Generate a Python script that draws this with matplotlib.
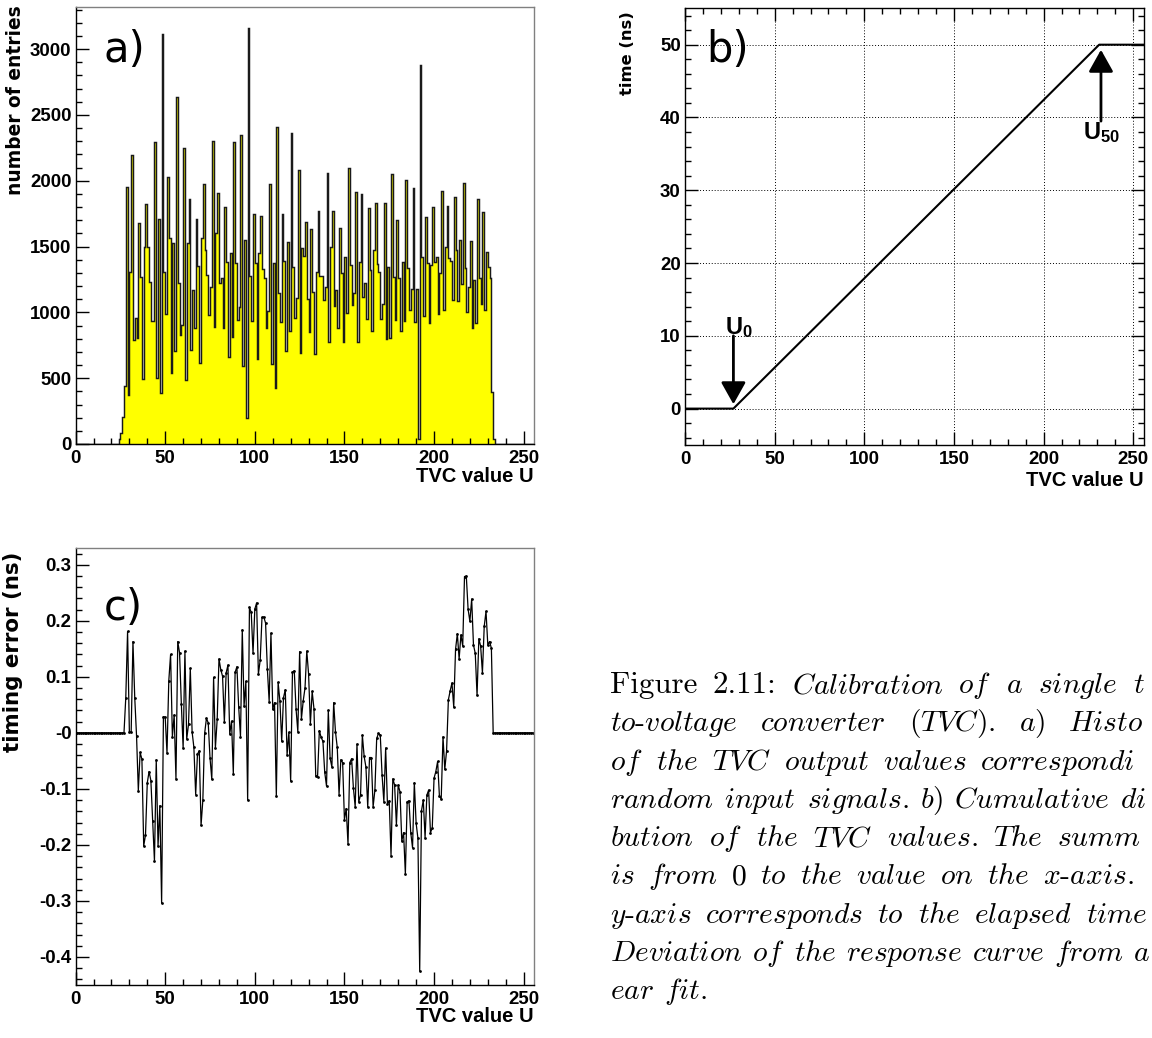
import numpy as np
import matplotlib
matplotlib.use('Agg')
import matplotlib.pyplot as plt
from matplotlib.ticker import MultipleLocator, FixedLocator, FixedFormatter

# ---------------- data ----------------
# (a) histogram of TVC values: counts per bin, starting at bin hist_first_bin
hist_first_bin = 24
hist_counts = [35, 85, 208, 440, 1955, 372, 1310, 2196, 790, 955, 803, 1682, 1271, 491, 1499,
               1821, 1499, 1234, 935, 935, 2297, 499, 1707, 390, 3113, 1310, 985, 2026, 1568, 542,
               1525, 709, 2634, 1221, 828, 904, 2252, 486, 1525, 1861, 715, 1170, 879, 1707, 1355,
               613, 1563, 1976, 1474, 1284, 980, 1196, 2302, 891, 1600, 1905, 1221, 1259, 879, 1803,
               1385, 664, 1449, 816, 2297, 1373, 942, 1044, 2348, 595, 1550, 195, 3163, 1277, 935,
               1745, 1373, 646, 1449, 1735, 1327, 1264, 884, 1013, 1976, 605, 1378, 428, 2411, 1150,
               930, 1745, 1391, 707, 1532, 859, 2366, 1342, 960, 1107, 2082, 689, 1492, 1429, 1689,
               1102, 849, 1631, 1158, 684, 1305, 1771, 1279, 1277, 1094, 1196, 2057, 778, 1499, 1773,
               1049, 1170, 879, 1644, 1302, 773, 1424, 993, 2100, 1360, 1056, 1145, 1917, 778, 1380,
               1897, 1120, 1221, 950, 1796, 1322, 859, 1474, 1829, 1365, 1310, 947, 1064, 1829, 795,
               1347, 803, 2052, 1271, 942, 1702, 1259, 859, 1385, 935, 2006, 1335, 1018, 1175, 1943,
               930, 1175, 35, 2880, 1418, 973, 1727, 1373, 922, 1360, 1803, 1385, 1418, 988, 1297,
               1925, 1018, 1499, 1811, 1416, 1391, 1094, 1879, 1474, 1087, 1550, 1213, 1986, 1335, 1006,
               1196, 1545, 879, 1246, 917, 1862, 1264, 1064, 1765, 1018, 1462, 1347, 1259, 398, 35]

# (b) cumulative time vs TVC value (piecewise: flat, linear, flat)
b_u = [0, 27, 231, 256]
b_time = [0, 0, 50, 50]
b_u0 = 27
b_u50 = 232

# (c) deviation from linear fit (ns), one point per TVC value, starting at c_first_u
c_first_u = 28
c_dev = [0.063, 0.181, 0.002, 0.001, 0.163, 0.063, -0.005, -0.103, -0.035, -0.047,
         -0.202, -0.182, -0.089, -0.069, -0.085, -0.157, -0.229, -0.048, -0.202, -0.130,
         -0.304, 0.029, 0.028, -0.036, 0.093, 0.140, -0.007, 0.032, -0.082, 0.163,
         0.143, 0.052, -0.027, 0.146, -0.011, 0.015, 0.115, 0.002, -0.026, -0.110,
         -0.038, -0.032, -0.165, -0.120, -0.001, 0.026, 0.018, -0.045, -0.083, 0.099,
         -0.027, 0.024, 0.132, 0.113, 0.101, 0.019, 0.107, 0.121, -0.002, 0.021,
         -0.073, 0.108, 0.118, 0.046, -0.007, 0.184, 0.048, 0.092, -0.120, 0.224,
         0.215, 0.142, 0.221, 0.232, 0.105, 0.130, 0.206, 0.207, 0.196, 0.114,
         0.056, 0.178, 0.042, 0.054, -0.113, 0.090, 0.057, -0.015, 0.063, 0.077,
         -0.039, 0.001, -0.086, 0.108, 0.111, 0.043, 0.002, 0.145, 0.025, 0.057,
         0.080, 0.146, 0.105, 0.016, 0.074, 0.043, -0.077, -0.079, 0.004, -0.008,
         -0.015, -0.070, -0.095, 0.040, -0.045, -0.061, 0.054, 0.002, -0.026, -0.110,
         -0.048, -0.053, -0.155, -0.135, -0.199, -0.053, -0.046, -0.098, -0.132, -0.020,
         -0.123, -0.111, -0.004, -0.042, -0.061, -0.132, -0.044, -0.044, -0.132, -0.102,
         -0.010, -0.001, -0.004, -0.075, -0.123, -0.027, -0.127, -0.121, -0.219, -0.082,
         -0.093, -0.164, -0.093, -0.105, -0.193, -0.178, -0.252, -0.123, -0.121, -0.178,
         -0.205, -0.089, -0.161, -0.188, -0.425, -0.139, -0.120, -0.187, -0.111, -0.102,
         -0.178, -0.170, -0.081, -0.069, -0.051, -0.113, -0.118, -0.007, -0.065, -0.032,
         0.059, 0.075, 0.089, 0.046, 0.149, 0.177, 0.132, 0.175, 0.155, 0.279,
         0.280, 0.221, 0.199, 0.239, 0.157, 0.142, 0.067, 0.168, 0.155, 0.107,
         0.190, 0.217, 0.157, 0.163, 0.151]
c_last_u = 255

c_yticks = [-0.4, -0.3, -0.2, -0.1, 0.0, 0.1, 0.2, 0.3]
c_yticklabels = ['-0.4', '-0.3', '-0.2', '-0.1', '-0', '0.1', '0.2', '0.3']

# caption (visible part, the page is cut at the right edge): words of each line
caption_words = [
    ['Figure', '2.11:', 'Calibration', 'of', 'a', 'single', 't'],
    ['to-voltage', 'converter', '(TVC).', 'a)', 'Histo'],
    ['of', 'the', 'TVC', 'output', 'values', 'correspondi'],
    ['random', 'input', 'signals.', 'b)', 'Cumulative', 'di'],
    ['bution', 'of', 'the', 'TVC', 'values.', 'The', 'summ'],
    ['is', 'from', '0', 'to', 'the', 'value', 'on', 'the', 'x-axis.'],
    ['y-axis', 'corresponds', 'to', 'the', 'elapsed', 'time'],
    ['Deviation', 'of', 'the', 'response', 'curve', 'from', 'a'],
    ['ear', 'fit.'],
]
# left pixel position of the last visible word of each justified line
caption_last_word_x = [1133, 1068, 980, 1120, 1057, 1043, 1086, 1133, None]

# ---------------- style ----------------
W, H = 1152, 1038
plt.rcParams['font.family'] = ['Liberation Sans', 'DejaVu Sans']
plt.rcParams['mathtext.fontset'] = 'custom'
plt.rcParams['mathtext.rm'] = 'Liberation Sans'
plt.rcParams['mathtext.bf'] = 'Liberation Sans:bold'
plt.rcParams['mathtext.it'] = 'Liberation Sans:italic'

fig = plt.figure(figsize=(W / 100, H / 100), dpi=100)


def rect(l, r, t, b):
    return [l / W, 1 - b / H, (r - l) / W, (b - t) / H]


def px(x, y):
    return (x / W, 1 - y / H)


TICK_FS = 13.4


def style_axes(ax, ticks_all=False):
    ax.tick_params(which='both', direction='in', labelsize=TICK_FS,
                   top=ticks_all, right=ticks_all, width=1.0)
    ax.tick_params(which='major', length=9.5)
    ax.tick_params(which='minor', length=4.5)
    ax.tick_params(axis='x', pad=4)
    ax.tick_params(axis='y', pad=3)
    for s in ax.spines.values():
        s.set_linewidth(1.0)
    ax.xaxis.set_major_locator(MultipleLocator(50))
    ax.xaxis.set_minor_locator(MultipleLocator(10))


# ---- (a) ----
ax_a = fig.add_axes(rect(75.6, 534.4, 7, 444))
edges = np.arange(257)
counts = np.zeros(256)
counts[hist_first_bin:hist_first_bin + len(hist_counts)] = hist_counts
ax_a.stairs(counts, edges, fill=True, color='#ffff00', lw=0)
ax_a.stairs(counts, edges, color='#1a1a1a', lw=1.05)
ax_a.set_xlim(0, 256)
ax_a.set_ylim(0, 3320)
ax_a.yaxis.set_major_locator(MultipleLocator(500))
ax_a.yaxis.set_minor_locator(MultipleLocator(100))
style_axes(ax_a)
for s in ('top', 'right'):
    ax_a.spines[s].set_color('#808080')

# ---- (b) ----
ax_b = fig.add_axes(rect(685, 1144, 8.3, 445))
ax_b.plot(b_u, b_time, color='black', lw=1.5)
ax_b.set_xlim(0, 256)
ax_b.set_ylim(-5, 55)
ax_b.yaxis.set_major_locator(MultipleLocator(10))
ax_b.yaxis.set_minor_locator(MultipleLocator(2))
ax_b.grid(True, which='major', color='black', linestyle=(0, (1, 2)), lw=0.7)
style_axes(ax_b, ticks_all=True)
ap = dict(arrowstyle='-|>,head_length=0.75,head_width=0.42', color='black', lw=2.0,
          mutation_scale=18, shrinkA=0, shrinkB=0)
ax_b.annotate('', xy=(b_u0, 0.6), xytext=(b_u0, 10), arrowprops=ap)
ax_b.annotate('', xy=(b_u50, 49.3), xytext=(b_u50, 39.5), arrowprops=ap)
ax_b.text(b_u0 - 4.5, 10.3, r'$\mathbf{U_0}$', fontsize=17, ha='left', va='baseline')
ax_b.text(b_u50 - 10, 37.0, r'$\mathbf{U_{50}}$', fontsize=17, ha='left', va='baseline')

# ---- (c) ----
ax_c = fig.add_axes(rect(75.6, 534.4, 548, 985))
c_u = np.arange(0, c_last_u + 1)
c_vals = np.zeros(len(c_u))
c_vals[c_first_u:c_first_u + len(c_dev)] = c_dev
ax_c.plot(c_u, c_vals, color='black', lw=0.9, marker='o', ms=2.0, mew=0)
ax_c.set_xlim(0, 256)
ax_c.set_ylim(-0.45, 0.33)
ax_c.yaxis.set_major_locator(FixedLocator(c_yticks))
ax_c.yaxis.set_major_formatter(FixedFormatter(c_yticklabels))
ax_c.yaxis.set_minor_locator(MultipleLocator(0.02))
style_axes(ax_c)
for s in ('top', 'right'):
    ax_c.spines[s].set_color('#808080')

for ax in (ax_a, ax_b, ax_c):
    for lab in ax.get_xticklabels() + ax.get_yticklabels():
        lab.set_fontweight('bold')

# axis titles
fig.text(*px(534, 476), 'TVC value U', fontsize=14.5, fontweight='bold', ha='right', va='center')
fig.text(*px(1144, 481), 'TVC value U', fontsize=14.5, fontweight='bold', ha='right', va='center')
fig.text(*px(534, 1016), 'TVC value U', fontsize=14.5, fontweight='bold', ha='right', va='center')
fig.text(*px(16, 5), 'number of entries', fontsize=13.4, fontweight='bold', family='DejaVu Sans',
         rotation=90, ha='center', va='top')
fig.text(*px(628, 11), 'time (ns)', fontsize=11.8, fontweight='bold', family='DejaVu Sans',
         rotation=90, ha='center', va='top')
fig.text(*px(13, 552), 'timing error (ns)', fontsize=15.4, fontweight='bold', family='DejaVu Sans',
         rotation=90, ha='center', va='top')

# panel letters
for lab, (x, y) in (('a)', (104, 62)), ('b)', (706, 62)), ('c)', (104, 620))):
    fig.text(*px(x, y), lab, fontsize=30, family='DejaVu Sans', ha='left', va='baseline')

# caption: justified lines, word gaps spread evenly between left margin and last visible word
renderer = fig.canvas.get_renderer()
LEFT = 610
for i, (words, last_x) in enumerate(zip(caption_words, caption_last_word_x)):
    y = 693 + 38.3 * i
    texts = []
    for j, w in enumerate(words):
        if i == 0 and j < 2:
            t = fig.text(*px(LEFT, y), w, fontsize=22.3, family='cmr10', ha='left', va='baseline')
        else:
            s = w.replace('-', r'\text{-}')
            t = fig.text(*px(LEFT, y), r'$\mathit{' + s + '}$', fontsize=21.3,
                         math_fontfamily='cm', ha='left', va='baseline')
        texts.append(t)
    widths = [t.get_window_extent(renderer).width for t in texts]
    if last_x is None:
        gap = 10.0
    else:
        gap = (last_x - LEFT - sum(widths[:-1])) / (len(texts) - 1)
    x = LEFT
    for t, wd in zip(texts, widths):
        t.set_position(px(x, y))
        x += wd + gap

fig.savefig('out.png', dpi=100)
